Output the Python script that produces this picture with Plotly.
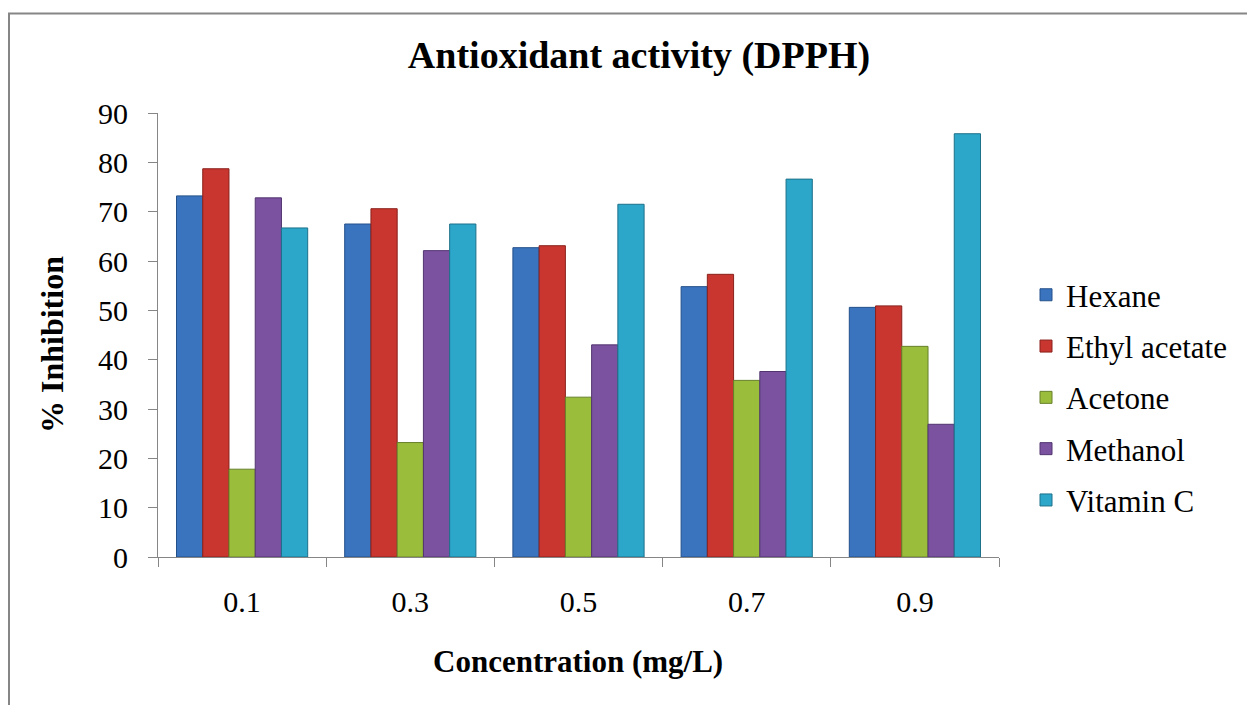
import plotly.graph_objects as go

categories = ["0.1", "0.3", "0.5", "0.7", "0.9"]
hexane = [73.2, 67.5, 62.7, 54.8, 50.6]
ethyl_acetate = [78.7, 70.6, 63.1, 57.3, 50.9]
acetone = [17.8, 23.2, 32.4, 35.8, 42.7]
methanol = [72.8, 62.1, 43.0, 37.6, 26.9]
vitamin_c = [66.7, 67.5, 71.5, 76.6, 85.8]

series = [
    ("Hexane", hexane, "#3a74bf", "#24508a"),
    ("Ethyl acetate", ethyl_acetate, "#c9362f", "#8a211c"),
    ("Acetone", acetone, "#9bbd3c", "#66802a"),
    ("Methanol", methanol, "#7a52a0", "#523570"),
    ("Vitamin C", vitamin_c, "#2ca7ca", "#1d718a"),
]

SERIF = "Liberation Serif"
fig = go.Figure()
for i, (name, vals, col, edge) in enumerate(series):
    fig.add_trace(go.Bar(
        x=categories, y=vals, name=name, legendgroup=name,
        marker=dict(color=col, line=dict(color=edge, width=1)),
    ))

fig.update_layout(
    width=1247, height=705,
    margin=dict(l=158, r=248, t=113, b=148),
    paper_bgcolor="white", plot_bgcolor="white",
    barmode="group", bargap=0.22, bargroupgap=0,
    font=dict(family=SERIF, size=30, color="black"),
    title=dict(text="<b>Antioxidant activity (DPPH)</b>", x=639 / 1247, xanchor="center",
               y=1 - 55 / 705, yanchor="middle", yref="container",
               font=dict(family=SERIF, size=38, color="black")),
    legend=dict(x=(1026 - 158) / 841, xanchor="left", y=0.359, yanchor="middle",
                font=dict(family=SERIF, size=31), traceorder="grouped",
                tracegroupgap=8, bgcolor="rgba(0,0,0,0)"),
    showlegend=True,
    xaxis=dict(showline=True, linecolor="#868686", linewidth=1, ticks="outside",
               tickson="boundaries", ticklen=9, tickcolor="#868686",
               ticklabelstandoff=18,
               tickfont=dict(family=SERIF, size=30), showgrid=False),
    yaxis=dict(range=[0, 90], dtick=10, showline=True, linecolor="#868686", linewidth=1,
               ticks="outside", ticklen=9, tickcolor="#868686", showgrid=False,
               ticklabelstandoff=14,
               zeroline=False, tickfont=dict(family=SERIF, size=30)),
    annotations=[
        dict(text="<b>% Inhibition</b>", textangle=-90, xref="paper", yref="paper",
             x=(52 - 158) / 841, y=(557 - 345) / 444, xanchor="center", yanchor="middle",
             showarrow=False, font=dict(family=SERIF, size=32)),
        dict(text="<b>Concentration (mg/L)</b>", xref="paper", yref="paper",
             x=(578 - 158) / 841, y=(557 - 661) / 444, xanchor="center", yanchor="middle",
             showarrow=False, font=dict(family=SERIF, size=31)),
    ],
    shapes=[
        dict(type="rect", xref="paper", yref="paper",
             x0=(9 - 158) / 841, x1=1.4, y0=-0.5, y1=(557 - 13.5) / 444,
             line=dict(color="#868686", width=2), fillcolor="rgba(0,0,0,0)", layer="below"),
    ],
)

fig.write_html("out.html")
